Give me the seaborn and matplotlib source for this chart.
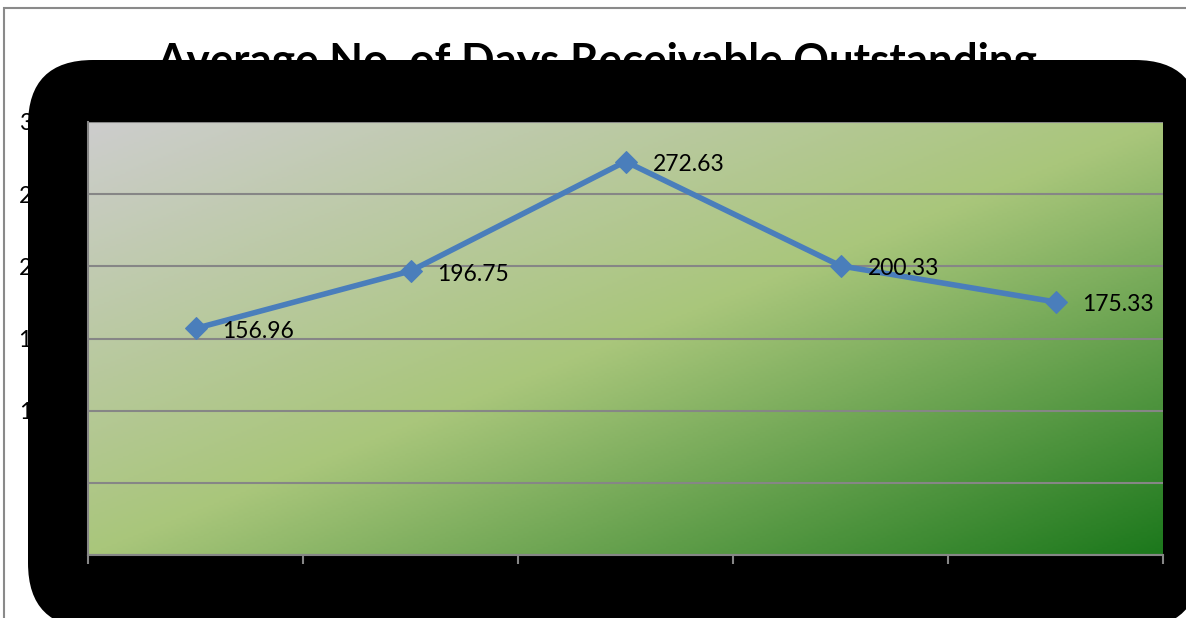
import numpy as np
import pandas as pd
import matplotlib
matplotlib.use("Agg")
import matplotlib.pyplot as plt
import seaborn as sns
from matplotlib.patches import FancyBboxPatch, Rectangle
from matplotlib.colors import LinearSegmentedColormap
from matplotlib.transforms import IdentityTransform

# ---- data ----
title = "Average No. of Days Receivable Outstanding"
positions = [0, 1, 2, 3, 4]
values = [156.96, 196.75, 272.63, 200.33, 175.33]
y_ticks = [0, 50, 100, 150, 200, 250, 300]

df = pd.DataFrame({"pos": positions, "value": values})

sns.set_theme(style="white")
plt.rcParams['font.family'] = ['Lato', 'DejaVu Sans']

W, H = 1186, 618
fig = plt.figure(figsize=(W / 100, H / 100), dpi=100)
fig.patch.set_facecolor('white')


def fx(px):
    return px / W


def fy(py):
    return 1 - py / H


# outer gray frame
fig.add_artist(Rectangle((4, -100), 1400, (H - 8) + 100, transform=IdentityTransform(),
                         fill=False, edgecolor='#8a8a8a', lw=1.5, zorder=0))

# title (partly covered by the black shape)
fig.text(fx(597), fy(75), title, ha='center', va='baseline', fontsize=31.7,
         fontweight='bold', color='black', zorder=1)

# big black rounded shape
fig.add_artist(FancyBboxPatch((28, H - 628), 1172, 568,
                              boxstyle="round,pad=0,rounding_size=65",
                              transform=IdentityTransform(), facecolor='black',
                              edgecolor='none', zorder=2))

ax = fig.add_axes([fx(88), fy(555), fx(1163) - fx(88), fy(122) - fy(555)], zorder=3)

# gradient background
M, N = 400, 200
u = np.linspace(0, 1, M)
v = np.linspace(0, 1, N)
U, V = np.meshgrid(u, v)
T = (U + (1 - V)) / 2
cmap = LinearSegmentedColormap.from_list(
    "excel_green", [(0.0, '#cdcdcd'), (0.5, '#a9c67b'), (1.0, '#1c781c')])
ax.imshow(T, cmap=cmap, origin='lower', extent=[0, 1, 0, 1], transform=ax.transAxes,
          aspect='auto', zorder=0, vmin=0, vmax=1)

sns.lineplot(data=df, x="pos", y="value", ax=ax, color='#4a7ebb', lw=4,
             marker='D', markersize=11, markeredgecolor='#4a7ebb', zorder=5)

for p, val in zip(positions, values):
    ax.annotate(f"{val:.2f}", (p, val), xytext=(27, -3), textcoords='offset pixels',
                ha='left', va='center', fontsize=16.5, color='black', zorder=6)

ax.set_xlim(-0.5, 4.5)
ax.set_ylim(0, 300)
ax.set_xticks(np.arange(-0.5, 5, 1.0))
ax.set_xticklabels([""] * 6)
ax.set_yticks(y_ticks)
ax.set_yticklabels([str(t) for t in y_ticks])
ax.set_xlabel("")
ax.set_ylabel("")

ax.yaxis.grid(True, color='#868686', lw=1.5, zorder=1)
ax.set_axisbelow(False)
for s in ['top', 'right']:
    ax.spines[s].set_visible(False)
for s in ['left', 'bottom']:
    ax.spines[s].set_color('#868686')
    ax.spines[s].set_linewidth(1.5)
ax.tick_params(axis='both', direction='out', color='#868686', width=1.5, length=6.5)
ax.tick_params(axis='y', labelsize=16.5, labelcolor='black', pad=15)
ax.tick_params(axis='x', bottom=True)
ax.get_legend() and ax.get_legend().remove()

fig.savefig("out.png", dpi=100)
